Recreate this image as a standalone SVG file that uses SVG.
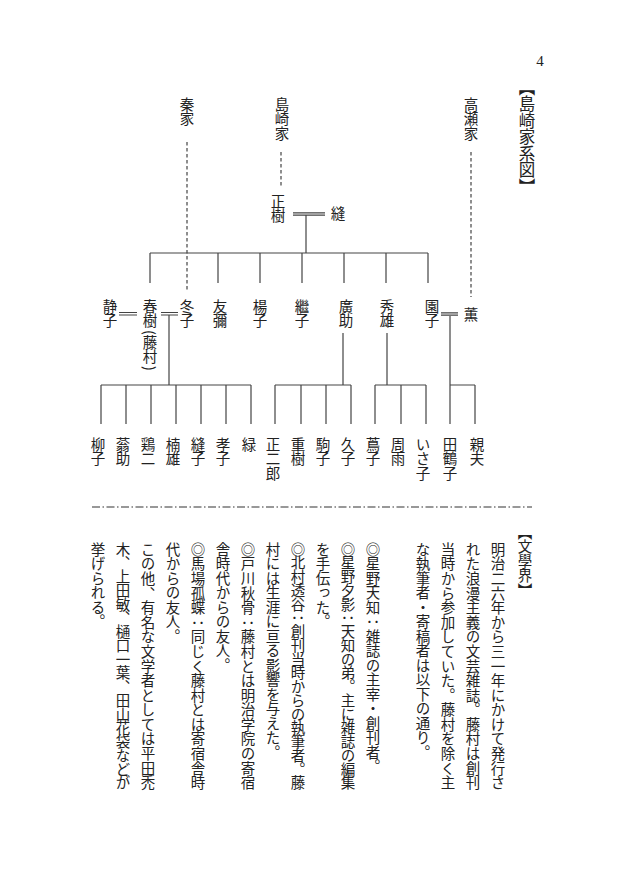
<svg xmlns="http://www.w3.org/2000/svg" width="620" height="874" viewBox="0 0 620 874">
<style>
.v{font-family:"Noto Sans CJK JP","Noto Sans CJK SC",sans-serif;font-size:14.5px;writing-mode:vertical-rl;fill:#222}
.h{font-size:16.5px}
.b{font-size:14.5px}
.ln{stroke:#444;stroke-width:1.2;fill:none}
.ds{stroke:#444;stroke-width:1.2;fill:none;stroke-dasharray:3.5 2.5}
</style>
<rect width="620" height="874" fill="#fff"/>
<text x="540" y="66" font-family="Liberation Serif" font-size="15" text-anchor="middle" fill="#222">4</text>
<text id="title-shimazaki" class="v h" x="527" y="79">【島崎家系図】</text>

<g id="families">
<g id="hata"><text class="v" x="187" y="97">秦家</text></g>
<g id="shimazaki"><text class="v" x="282" y="97">島崎家</text></g>
<g id="takase"><text class="v" x="471" y="97">高瀬家</text></g>
</g>

<g id="gen1">
<g id="masaki"><text class="v" x="278" y="194">正樹</text></g>
<g id="nui"><text class="v" x="338" y="206">縫</text></g>
</g>

<g id="gen2">
<g id="shizuko"><text class="v" x="110" y="299">静子</text></g>
<g id="haruki"><text class="v" x="150" y="299">春樹<tspan dy="2">(</tspan>藤村<tspan dy="2">)</tspan></text></g>
<g id="fuyuko"><text class="v" x="187" y="299">冬子</text></g>
<g id="tomoya"><text class="v" x="220" y="299">友彌</text></g>
<g id="yoko"><text class="v" x="260" y="299">楊子</text></g>
<g id="tsugiko"><text class="v" x="302" y="299">繼子</text></g>
<g id="hirosuke"><text class="v" x="346" y="299">廣助</text></g>
<g id="hideo"><text class="v" x="387" y="299">秀雄</text></g>
<g id="sonoko"><text class="v" x="432" y="299">園子</text></g>
<g id="kaoru"><text class="v" x="471" y="307">薫</text></g>
</g>

<g id="gen3">
<g id="ryuko"><text class="v" x="98" y="437">柳子</text></g>
<g id="osuke"><text class="v" x="123" y="437">蓊助</text></g>
<g id="keiji"><text class="v" x="148" y="437">鶏二</text></g>
<g id="kusuo"><text class="v" x="173" y="437">楠雄</text></g>
<g id="nuiko"><text class="v" x="198" y="437">縫子</text></g>
<g id="takako"><text class="v" x="223" y="437">孝子</text></g>
<g id="midori"><text class="v" x="249" y="437">緑</text></g>
<g id="shojiro"><text class="v" x="273" y="437">正二郎</text></g>
<g id="shigeki"><text class="v" x="298" y="437">重樹</text></g>
<g id="komako"><text class="v" x="323" y="437">駒子</text></g>
<g id="hisako"><text class="v" x="348" y="437">久子</text></g>
<g id="tsutako"><text class="v" x="373" y="437">蔦子</text></g>
<g id="shuu"><text class="v" x="398" y="437">周雨</text></g>
<g id="isako"><text class="v" x="423" y="437">いさ子</text></g>
<g id="tazuko"><text class="v" x="450" y="437">田鶴子</text></g>
<g id="chikao"><text class="v" x="477" y="437">親夫</text></g>
</g>

<g id="connectors">
<line class="ds" x1="187" y1="142" x2="187" y2="290"/>
<line class="ds" x1="281" y1="152" x2="281" y2="187"/>
<line class="ds" x1="471" y1="152" x2="471" y2="297"/>
<path class="ln" d="M293 212.8H325M293 215.2H325"/>
<path class="ln" d="M306 215V253M150 253H428M150 253V283M218 253V283M260 253V283M302 253V283M344 253V283M386 253V283M428 253V283"/>
<path class="ln" d="M119 312.5H137M119 315H137M161 312.5H178M161 315H178M441 312.8H458M441 315.2H458"/>
<path class="ln" d="M169 315V385M343 333V385M387 333V385M450 316V385"/>
<path class="ln" d="M101 385H251M101 385V424M126 385V424M151 385V424M176 385V424M201 385V424M226 385V424M251 385V424"/>
<path class="ln" d="M275 385H351M275 385V424M301 385V424M326 385V424M351 385V424"/>
<path class="ln" d="M375 385H426M375 385V424M401 385V424M426 385V424"/>
<path class="ln" d="M450 385H475M450 385V424M475 385V424"/>
</g>

<line x1="92" y1="507" x2="532" y2="507" stroke="#333" stroke-width="1.1" stroke-dasharray="8 2.5 1.5 2.5"/>

<g id="bungakukai">
<text class="v" x="525" y="525" font-size="16">【文學界】</text>
<text class="v b" x="498" y="542" textLength="248" lengthAdjust="spacing">明治二六年から三一年にかけて発行さ</text>
<text class="v b" x="473" y="542" textLength="248" lengthAdjust="spacing">れた浪漫主義の文芸雑誌。藤村は創刊</text>
<text class="v b" x="448" y="542" textLength="248" lengthAdjust="spacing">当時から参加していた。藤村を除く主</text>
<text class="v b" x="423" y="542">な執筆者・寄稿者は以下の通り。</text>
<text class="v b" x="373" y="542">◎星野天知：雑誌の主宰・創刊者。</text>
<text class="v b" x="348" y="542" textLength="248" lengthAdjust="spacing">◎星野夕影：天知の弟。主に雑誌の編集</text>
<text class="v b" x="323" y="542">を手伝った。</text>
<text class="v b" x="298" y="542" textLength="248" lengthAdjust="spacing">◎北村透谷：創刊当時からの執筆者。藤</text>
<text class="v b" x="273" y="542">村には生涯に亘る影響を与えた。</text>
<text class="v b" x="248" y="542" textLength="248" lengthAdjust="spacing">◎戸川秋骨：藤村とは明治学院の寄宿</text>
<text class="v b" x="223" y="542">舎時代からの友人。</text>
<text class="v b" x="198" y="542" textLength="248" lengthAdjust="spacing">◎馬場孤蝶：同じく藤村とは寄宿舎時</text>
<text class="v b" x="173" y="542">代からの友人。</text>
<text class="v b" x="148" y="542" textLength="248" lengthAdjust="spacing">この他、有名な文学者としては平田禿</text>
<text class="v b" x="123" y="542" textLength="248" lengthAdjust="spacing">木、上田敏、樋口一葉、田山花袋などが</text>
<text class="v b" x="98" y="542">挙げられる。</text>
</g>
</svg>
